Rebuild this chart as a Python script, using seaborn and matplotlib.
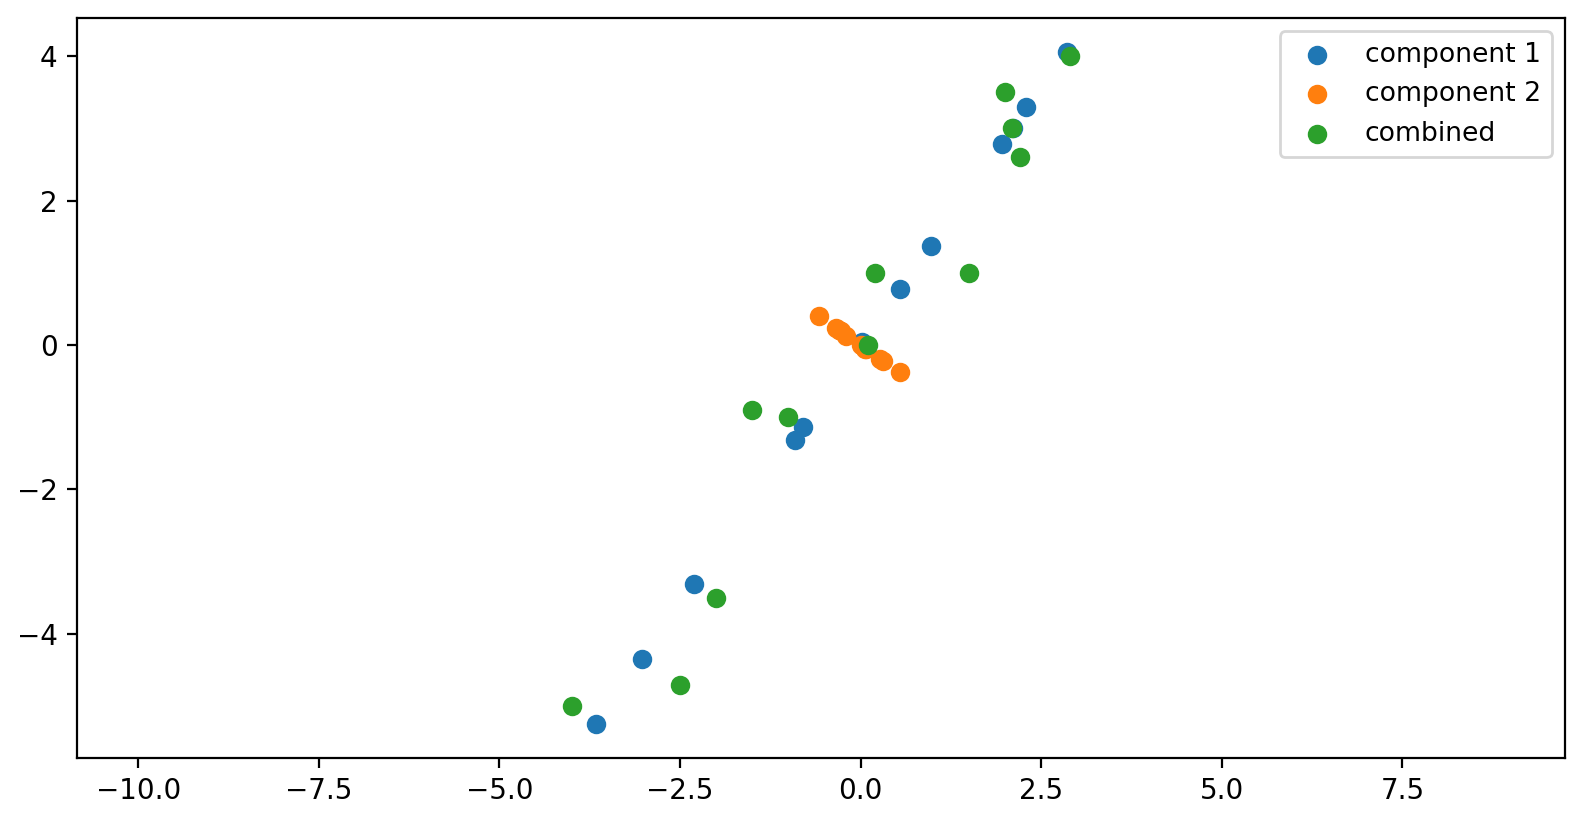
import numpy as np
import pandas as pd
import matplotlib
matplotlib.use("Agg")
import matplotlib.pyplot as plt
import seaborn as sns

# combined points
comb_x = [-4.0, -2.5, -2.0, -1.5, -1.0, 0.1, 0.2, 1.5, 2.0, 2.1, 2.2, 2.9]
comb_y = [-5.0, -4.7, -3.5, -0.9, -1.0, 0.0, 1.0, 1.0, 3.5, 3.0, 2.6, 4.0]

# projection on first component
c1_x = [-3.66, -3.03, -2.30, -0.91, -0.80, 0.02, 0.54, 0.98, 1.96, 2.11, 2.29, 2.85]
c1_y = [-5.25, -4.34, -3.31, -1.31, -1.14, 0.04, 0.77, 1.37, 2.78, 3.00, 3.30, 4.06]

# projection on second component
c2_x = [-0.57, -0.34, -0.30, -0.27, -0.20, 0.00, 0.06, 0.08, 0.27, 0.31, 0.54, 0.03]
c2_y = [0.40, 0.23, 0.21, 0.19, 0.13, 0.00, -0.05, -0.06, -0.19, -0.22, -0.38, -0.02]

labels = ["component 1", "component 2", "combined"]

df1 = pd.DataFrame({"x": c1_x, "y": c1_y})
df2 = pd.DataFrame({"x": c2_x, "y": c2_y})
dfc = pd.DataFrame({"x": comb_x, "y": comb_y})

fig, ax = plt.subplots(figsize=(7.92, 4.11), dpi=200)
kw = dict(s=36, edgecolor="face", linewidth=1.0, legend=False)
sns.scatterplot(data=df1, x="x", y="y", ax=ax, color="#1f77b4", **kw)
sns.scatterplot(data=df2, x="x", y="y", ax=ax, color="#ff7f0e", **kw)
sns.scatterplot(data=dfc, x="x", y="y", ax=ax, color="#2ca02c", **kw)
ax.set_xlabel("")
ax.set_ylabel("")
ax.axis("equal")
# legend built from the scatter collections, like plt.scatter does
ax.legend(handles=list(ax.collections), labels=labels, loc="upper right", fontsize=9.6)
fig.subplots_adjust(left=0.0485, right=0.988, top=0.978, bottom=0.078)
fig.savefig("out.png", dpi=200)
